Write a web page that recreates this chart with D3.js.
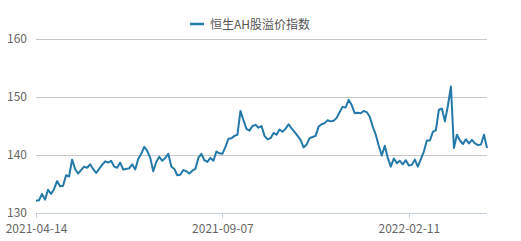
<!DOCTYPE html>
<html><head><meta charset="utf-8">
<script src="https://cdn.jsdelivr.net/npm/d3@7"></script>
<style>html,body{margin:0;padding:0;background:#fff;}svg{display:block;}</style>
</head><body>
<svg id="c" width="521" height="241"></svg>
<script>
const seriesName = "恒生AH股溢价指数";
const values = [
132.1,132.2,133.3,132.3,134.0,133.3,134.1,135.5,134.6,134.7,
136.5,136.3,139.2,137.6,136.8,137.4,138.0,137.8,138.4,137.6,
136.9,137.6,138.3,138.9,138.7,139.0,138.0,137.8,138.7,137.5,
137.6,137.7,138.4,137.5,139.3,140.2,141.4,140.7,139.5,137.2,
138.8,139.7,139.0,139.5,140.2,138.0,137.6,136.5,136.6,137.4,
137.2,136.8,137.3,137.6,139.5,140.2,139.1,138.8,139.5,139.0,
140.6,140.3,140.2,141.4,142.8,142.9,143.3,143.5,147.6,146.0,
144.5,144.2,145.0,145.2,144.7,145.0,143.3,142.7,142.9,143.8,
143.5,144.4,144.0,144.5,145.3,144.6,144.0,143.3,142.6,141.3,
141.8,142.9,143.1,143.3,144.9,145.3,145.5,146.0,145.8,145.9,
146.4,147.4,148.3,148.2,149.5,148.6,147.2,147.3,147.2,147.6,
147.4,146.6,144.9,143.5,141.6,139.9,141.6,139.5,138.0,139.4,
138.6,139.0,138.4,139.1,138.2,138.3,139.2,138.0,139.3,140.6,
142.5,142.5,144.0,144.3,147.8,148.0,145.8,148.5,151.8,141.2,
143.5,142.5,141.9,142.7,142.0,142.6,142.0,141.7,141.8,143.5,
141.2
];
const xTickLabels = ["2021-04-14","2021-09-07","2022-02-11"];
const xTickIndex = [0, 62, 124];
const yTicks = [130,140,150,160];

(function(){
const svg = d3.select("#c");
const font = "'Noto Sans CJK SC', 'Noto Sans', sans-serif";
const mL = 36, mR = 487, mT = 39, mB = 213;

const x = d3.scaleLinear().domain([0, values.length - 1]).range([mL, mR]);
const y = d3.scaleLinear().domain([130, 160]).range([mB, mT]);

const yAxis = d3.axisLeft(y).tickValues(yTicks).tickSize(-(mR - mL)).tickPadding(9).tickFormat(d3.format("d"));
const gy = svg.append("g").attr("transform", `translate(${mL},0)`).call(yAxis);
gy.select(".domain").remove();
gy.selectAll(".tick line").attr("stroke", "#c8c8c8").attr("stroke-width", 1)
  .attr("shape-rendering", "crispEdges");
gy.selectAll(".tick text").attr("fill", "#666").style("font-family", font).style("font-size", "12px");

const xAxis = d3.axisBottom(x).tickValues(xTickIndex).tickSize(5).tickPadding(6)
  .tickFormat((d, i) => xTickLabels[i]);
const gx = svg.append("g").attr("transform", `translate(0,${mB})`).call(xAxis);
gx.select(".domain").attr("stroke", "#c5d0de").attr("d", `M${mL},0.5H${mR}`).attr("shape-rendering", "crispEdges");
gx.selectAll(".tick line").attr("stroke", "#c5d0de").attr("shape-rendering", "crispEdges");
gx.selectAll(".tick text").attr("fill", "#666").style("font-family", font).style("font-size", "12px");

const line = d3.line().x((d, i) => x(i)).y(d => y(d));
svg.append("path").datum(values).attr("d", line)
  .attr("fill", "none").attr("stroke", "#2379a8").attr("stroke-width", 2)
  .attr("stroke-linejoin", "round");

const lg = svg.append("g");
lg.append("line").attr("x1", 190).attr("x2", 204).attr("y1", 24).attr("y2", 24)
  .attr("stroke", "#2379a8").attr("stroke-width", 2.5);
lg.append("text").attr("x", 210).attr("y", 28.5).text(seriesName)
  .attr("fill", "#555").style("font-family", font).style("font-size", "12px");
})();
</script>
</body></html>
